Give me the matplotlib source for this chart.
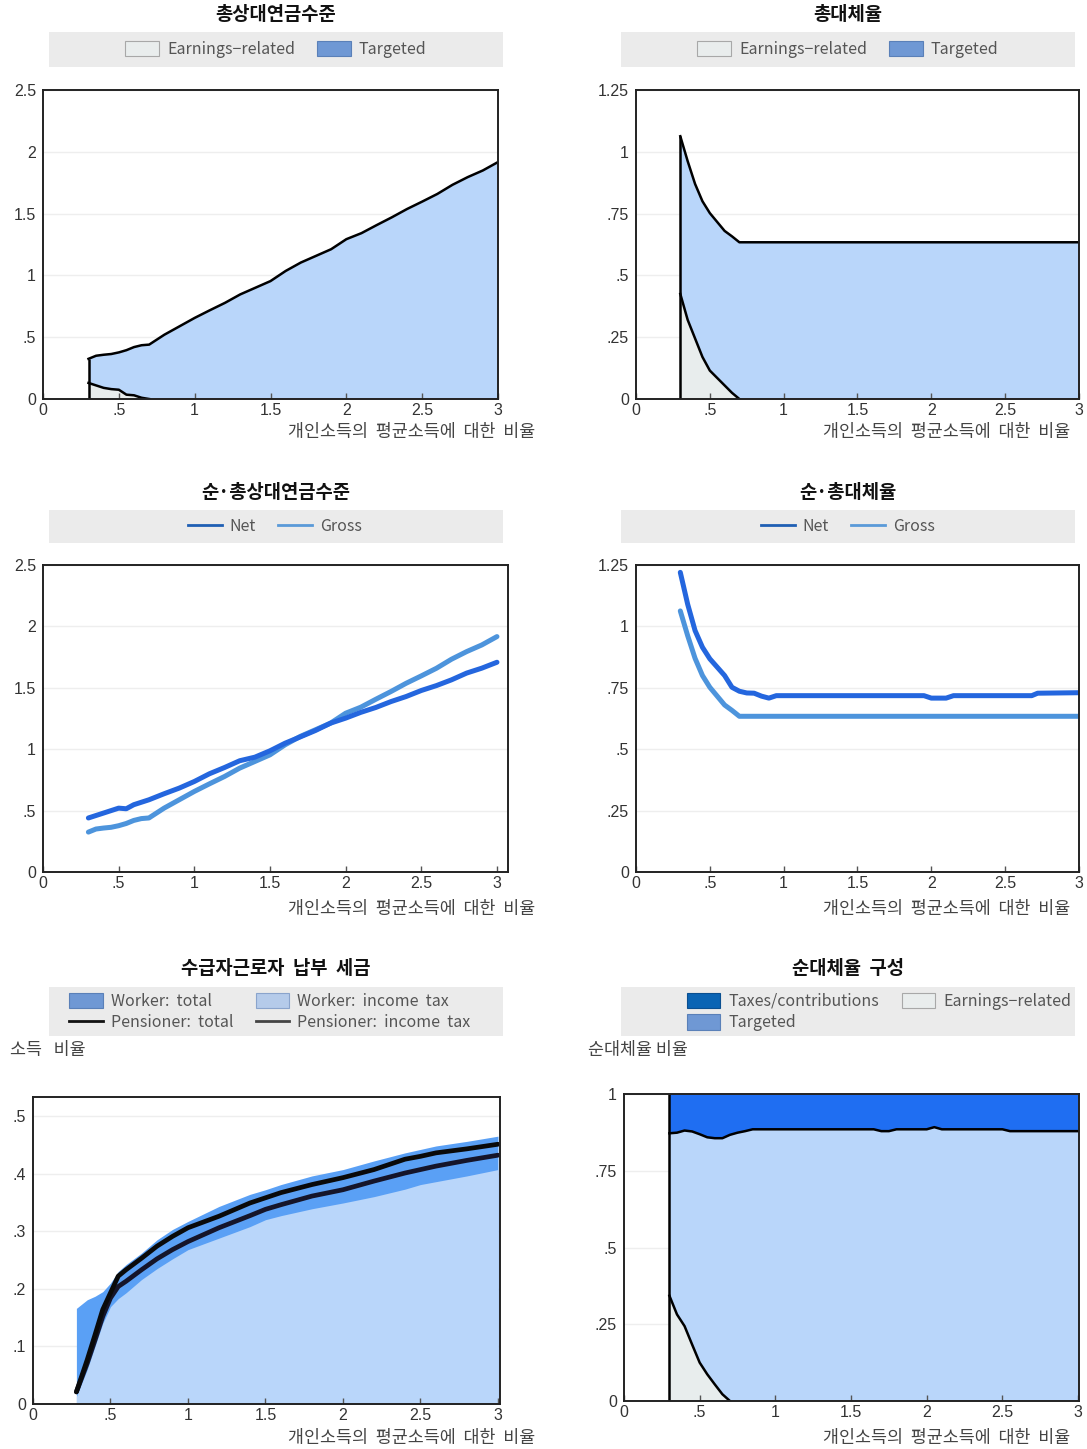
import numpy as np
import matplotlib
matplotlib.use("Agg")
import matplotlib.pyplot as plt
from matplotlib.patches import Patch, Rectangle
from matplotlib.lines import Line2D

plt.rcParams["font.family"] = ["Noto Sans CJK KR", "DejaVu Sans"]

W, H = 1087, 1449

# income as a share of average earnings
x = [0.3, 0.35, 0.4, 0.45, 0.5, 0.55, 0.6, 0.65, 0.7, 0.8, 0.9, 1.0, 1.1, 1.2,
     1.3, 1.4, 1.5, 1.6, 1.7, 1.8, 1.9, 2.0, 2.1, 2.2, 2.3, 2.4, 2.5, 2.6, 2.7,
     2.8, 2.9, 3.0]

# gross / net relative pension levels
gross_level = [0.325, 0.35, 0.358, 0.364, 0.377, 0.395, 0.42, 0.435, 0.44, 0.52,
               0.588, 0.656, 0.718, 0.778, 0.846, 0.90, 0.954, 1.036, 1.104,
               1.158, 1.212, 1.293, 1.342, 1.407, 1.47, 1.537, 1.597, 1.659,
               1.733, 1.795, 1.849, 1.917]
net_level = [0.44, 0.46, 0.48, 0.50, 0.52, 0.515, 0.548, 0.568, 0.588, 0.637,
             0.683, 0.737, 0.80, 0.851, 0.906, 0.935, 0.987, 1.049, 1.10, 1.152,
             1.212, 1.253, 1.30, 1.34, 1.388, 1.429, 1.478, 1.518, 1.565, 1.62,
             1.66, 1.708]
earn_level = [0.13, 0.11, 0.09, 0.08, 0.075, 0.035, 0.03, 0.01, 0.0]

# gross replacement rate and its earnings-related part
gross_rr = [1.063, 0.962, 0.87, 0.80, 0.752, 0.716, 0.68, 0.658, 0.634, 0.634,
            0.634, 0.634, 0.634, 0.634, 0.634, 0.634, 0.634, 0.634, 0.634, 0.634,
            0.634, 0.634, 0.634, 0.634, 0.634, 0.634, 0.634, 0.634, 0.634, 0.634,
            0.634, 0.634]
earn_rr = [0.425, 0.32, 0.245, 0.17, 0.115, 0.085, 0.055, 0.025, 0.0]

# net replacement rate
x_net = [0.3, 0.35, 0.4, 0.45, 0.5, 0.55, 0.6, 0.65, 0.7, 0.75, 0.8, 0.85, 0.9,
         0.95, 1.0, 1.5, 1.95, 2.0, 2.1, 2.15, 2.5, 2.68, 2.72, 3.0]
net_rr = [1.22, 1.09, 0.983, 0.915, 0.868, 0.834, 0.80, 0.752, 0.736, 0.729,
          0.728, 0.716, 0.708, 0.718, 0.718, 0.718, 0.718, 0.708, 0.708, 0.718,
          0.718, 0.718, 0.728, 0.73]

# taxes paid by workers and pensioners
x_tax = [0.28, 0.35, 0.4, 0.45, 0.5, 0.55, 0.6, 0.7, 0.8, 0.9, 1.0, 1.2, 1.4,
         1.5, 1.6, 1.8, 2.0, 2.2, 2.4, 2.5, 2.6, 2.8, 3.0]
worker_total = [0.166, 0.181, 0.187, 0.195, 0.21, 0.23, 0.242, 0.262, 0.285,
                0.303, 0.317, 0.343, 0.364, 0.372, 0.381, 0.396, 0.407, 0.422,
                0.436, 0.442, 0.448, 0.456, 0.465]
worker_income_tax = [0.013, 0.06, 0.10, 0.14, 0.169, 0.183, 0.193, 0.216, 0.235,
                     0.252, 0.268, 0.288, 0.308, 0.32, 0.327, 0.339, 0.349,
                     0.36, 0.373, 0.381, 0.386, 0.396, 0.407]
pensioner_total = [0.021, 0.077, 0.12, 0.164, 0.193, 0.222, 0.233, 0.253, 0.274,
                   0.291, 0.306, 0.326, 0.349, 0.358, 0.367, 0.381, 0.393, 0.407,
                   0.425, 0.43, 0.436, 0.443, 0.451]
pensioner_income_tax = [0.021, 0.071, 0.111, 0.152, 0.184, 0.204, 0.213, 0.233,
                        0.252, 0.268, 0.282, 0.306, 0.327, 0.338, 0.346, 0.361,
                        0.372, 0.387, 0.401, 0.407, 0.413, 0.423, 0.432]

# composition of the net replacement rate
x_comp = [0.3, 0.35, 0.4, 0.45, 0.5, 0.55, 0.6, 0.65, 0.7, 0.75, 0.8, 0.85, 1.65,
          1.7, 1.75, 1.8, 2.0, 2.05, 2.1, 2.5, 2.55, 3.0]
targeted_share = [0.872, 0.874, 0.881, 0.878, 0.869, 0.859, 0.856, 0.856, 0.867,
                  0.874, 0.879, 0.885, 0.885, 0.879, 0.879, 0.885, 0.885, 0.892,
                  0.885, 0.885, 0.879, 0.879]
earn_share = [0.343, 0.282, 0.244, 0.184, 0.125, 0.087, 0.054, 0.022, 0.0]

titles = ["총상대연금수준", "총대체율", "순·총상대연금수준", "순·총대체율",
          "수급자근로자  납부  세금", "순대체율  구성"]
xlabel = "개인소득의  평균소득에  대한  비율"

xticks = [0, 0.5, 1, 1.5, 2, 2.5, 3]
xticklabels = ["0", ".5", "1", "1.5", "2", "2.5", "3"]
level_ticks = [0, 0.5, 1, 1.5, 2, 2.5]
level_labels = ["0", ".5", "1", "1.5", "2", "2.5"]
rr_ticks = [0, 0.25, 0.5, 0.75, 1, 1.25]
rr_labels = ["0", ".25", ".5", ".75", "1", "1.25"]
tax_ticks = [0, 0.1, 0.2, 0.3, 0.4, 0.5]
tax_labels = ["0", ".1", ".2", ".3", ".4", ".5"]
comp_ticks = [0, 0.25, 0.5, 0.75, 1]
comp_labels = ["0", ".25", ".5", ".75", "1"]

LIGHT = "#b9d6fa"
GREYFILL = "#e8eded"
MID = "#5aa0f5"
BRIGHT = "#1f6ef2"
NET_C = "#2466de"
GROSS_C = "#4d94dc"


def fx(px):
    return px / W


def fy(py):
    return 1 - py / H


def make_axes(fig, left, top, right, bottom):
    ax = fig.add_axes([fx(left), fy(bottom), (right - left) / W, (bottom - top) / H])
    for s in ax.spines.values():
        s.set_linewidth(1.4)
        s.set_color("#222222")
        s.set_zorder(5)
    ax.tick_params(axis="x", direction="in", length=4, width=1, color="#555555",
                   pad=3, labelsize=11.5, labelcolor="#333333")
    ax.tick_params(axis="y", length=0, pad=5, labelsize=11.5, labelcolor="#333333")
    return ax


def set_ticks(ax, yt, ytl, xmax, ymax):
    ax.set_xticks(xticks)
    ax.set_xticklabels(xticklabels)
    ax.set_yticks(yt)
    ax.set_yticklabels(ytl)
    ax.set_xlim(0, xmax)
    ax.set_ylim(0, ymax)
    for lab in ax.get_xticklabels() + ax.get_yticklabels():
        lab.set_fontfamily("Liberation Sans")
    for t in yt[1:]:
        ax.axhline(t, color="#eeeeee", lw=1, zorder=0)


def header(fig, cx, ty, title, box_top, box_bottom, box_left, box_right):
    fig.text(fx(cx), fy(ty), title, ha="center", va="center",
             fontsize=13.5, fontweight="bold", color="#111111")
    fig.add_artist(Rectangle((fx(box_left), fy(box_bottom)),
                             (box_right - box_left) / W, (box_bottom - box_top) / H,
                             transform=fig.transFigure, facecolor="#ebebeb",
                             edgecolor="none", zorder=0))


def legend(fig, handles, labels, cx, cy, ncol=2):
    fig.legend(handles, labels, loc="center", bbox_to_anchor=(fx(cx), fy(cy)),
               ncol=ncol, frameon=False, fontsize=11.5, handlelength=2.1,
               handleheight=1.1, handletextpad=0.5, columnspacing=1.4,
               labelspacing=0.3, labelcolor="#555555", borderpad=0)


def xlab(fig, right, y):
    fig.text(fx(right), fy(y), xlabel, ha="right", va="center",
             fontsize=12.5, color="#444444")


fig = plt.figure(figsize=(W / 100, H / 100), dpi=100)

earn_patch = Patch(facecolor="#e9eded", edgecolor="#a8a8a8", lw=0.8)
targ_patch = Patch(facecolor="#6f98d4", edgecolor="#5a80b8", lw=0.8)
net_handle = Line2D([], [], color="#1f5fb4", lw=2)
gross_handle = Line2D([], [], color="#5a9ad8", lw=2)

xa = np.array(x)
pad = np.zeros(len(x) - len(earn_level))

# gross relative pension level
ax = make_axes(fig, 43, 90, 498, 399)
el = np.r_[earn_level, pad]
ax.fill_between(xa, 0, el, color=GREYFILL, lw=0, zorder=1)
ax.fill_between(xa, el, gross_level, color=LIGHT, lw=0, zorder=1)
ax.plot(xa, gross_level, color="black", lw=1.8, zorder=3)
ax.plot(x[:len(earn_level)], earn_level, color="black", lw=1.8, zorder=3)
ax.vlines(x[0], 0, gross_level[0], color="black", lw=1.8, zorder=3)
set_ticks(ax, level_ticks, level_labels, 3.0, 2.5)
header(fig, 276, 15, titles[0], 32, 67, 49, 503)
legend(fig, [earn_patch, targ_patch], ["Earnings−related", "Targeted"], 276, 49.5)
xlab(fig, 535, 432)

# gross replacement rate
ax = make_axes(fig, 636, 90, 1079, 399)
er = np.r_[earn_rr, pad]
ax.fill_between(xa, 0, er, color=GREYFILL, lw=0, zorder=1)
ax.fill_between(xa, er, gross_rr, color=LIGHT, lw=0, zorder=1)
ax.plot(xa, gross_rr, color="black", lw=1.8, zorder=3)
ax.plot(x[:len(earn_rr)], earn_rr, color="black", lw=1.8, zorder=3)
ax.vlines(x[0], 0, gross_rr[0], color="black", lw=1.8, zorder=3)
set_ticks(ax, rr_ticks, rr_labels, 3.0, 1.25)
header(fig, 848, 15, titles[1], 32, 67, 621, 1075)
legend(fig, [earn_patch, targ_patch], ["Earnings−related", "Targeted"], 848, 49.5)
xlab(fig, 1070, 432)

# net and gross pension levels
ax = make_axes(fig, 43, 565, 508, 872)
ax.plot(xa, gross_level, color=GROSS_C, lw=3.6, solid_capstyle="round", zorder=3)
ax.plot(xa, net_level, color=NET_C, lw=3.6, solid_capstyle="round", zorder=3)
set_ticks(ax, level_ticks, level_labels, 3.073, 2.5)
header(fig, 276, 492, titles[2], 510, 543, 49, 503)
legend(fig, [net_handle, gross_handle], ["Net", "Gross"], 275, 526.5)
xlab(fig, 535, 909)

# net and gross replacement rates
ax = make_axes(fig, 636, 565, 1079, 872)
ax.plot(xa, gross_rr, color=GROSS_C, lw=3.6, solid_capstyle="round", zorder=3)
ax.plot(x_net, net_rr, color=NET_C, lw=3.6, solid_capstyle="round", zorder=3)
set_ticks(ax, rr_ticks, rr_labels, 3.0, 1.25)
header(fig, 848, 492, titles[3], 510, 543, 621, 1075)
legend(fig, [net_handle, gross_handle], ["Net", "Gross"], 848, 526.5)
xlab(fig, 1070, 909)

# taxes paid by workers and pensioners
ax = make_axes(fig, 33, 1097, 500, 1404)
ax.fill_between(x_tax, 0, worker_total, color=MID, lw=0, zorder=1)
ax.fill_between(x_tax, 0, worker_income_tax, color=LIGHT, lw=0, zorder=1)
ax.plot(x_tax, pensioner_income_tax, color="#15152a", lw=3.4,
        solid_capstyle="round", zorder=3)
ax.plot(x_tax, pensioner_total, color="#0a0a0a", lw=3.4,
        solid_capstyle="round", zorder=3)
set_ticks(ax, tax_ticks, tax_labels, 3.013, 0.533)
header(fig, 276, 969, titles[4], 987, 1036, 49, 503)
legend(fig,
       [Patch(facecolor="#6f98d4", edgecolor="#5a80b8", lw=0.8),
        Line2D([], [], color="#111111", lw=2),
        Patch(facecolor="#b5cbea", edgecolor="#8aa4cc", lw=0.8),
        Line2D([], [], color="#444444", lw=2)],
       ["Worker:  total", "Pensioner:  total", "Worker:  income  tax",
        "Pensioner:  income  tax"], 270, 1012)
fig.text(fx(10), fy(1050), "소득   비율", ha="left", va="center",
         fontsize=12.5, color="#444444")
xlab(fig, 535, 1438)

# composition of the net replacement rate
ax = make_axes(fig, 624, 1094, 1079, 1401)
es = np.r_[earn_share, np.zeros(len(x_comp) - len(earn_share))]
ax.fill_between(x_comp, 0, es, color=GREYFILL, lw=0, zorder=1)
ax.fill_between(x_comp, es, targeted_share, color=LIGHT, lw=0, zorder=1)
ax.fill_between(x_comp, targeted_share, 1, color=BRIGHT, lw=0, zorder=1)
ax.plot(x_comp, targeted_share, color="black", lw=1.8, zorder=3)
ax.plot(x_comp[:len(earn_share)], earn_share, color="black", lw=1.8, zorder=3)
ax.vlines(x_comp[0], 0, 1, color="black", lw=1.8, zorder=3)
set_ticks(ax, comp_ticks, comp_labels, 3.006, 1.0)
header(fig, 848, 969, titles[5], 987, 1036, 621, 1075)
legend(fig,
       [Patch(facecolor="#0a64b4", edgecolor="#0a4f90", lw=0.8),
        Patch(facecolor="#6f98d4", edgecolor="#5a80b8", lw=0.8),
        earn_patch],
       ["Taxes/contributions", "Targeted", "Earnings−related"], 879, 1012)
fig.text(fx(588), fy(1050), "순대체율 비율", ha="left", va="center",
         fontsize=12.5, color="#444444")
xlab(fig, 1070, 1438)

fig.savefig("out.png", dpi=100)
